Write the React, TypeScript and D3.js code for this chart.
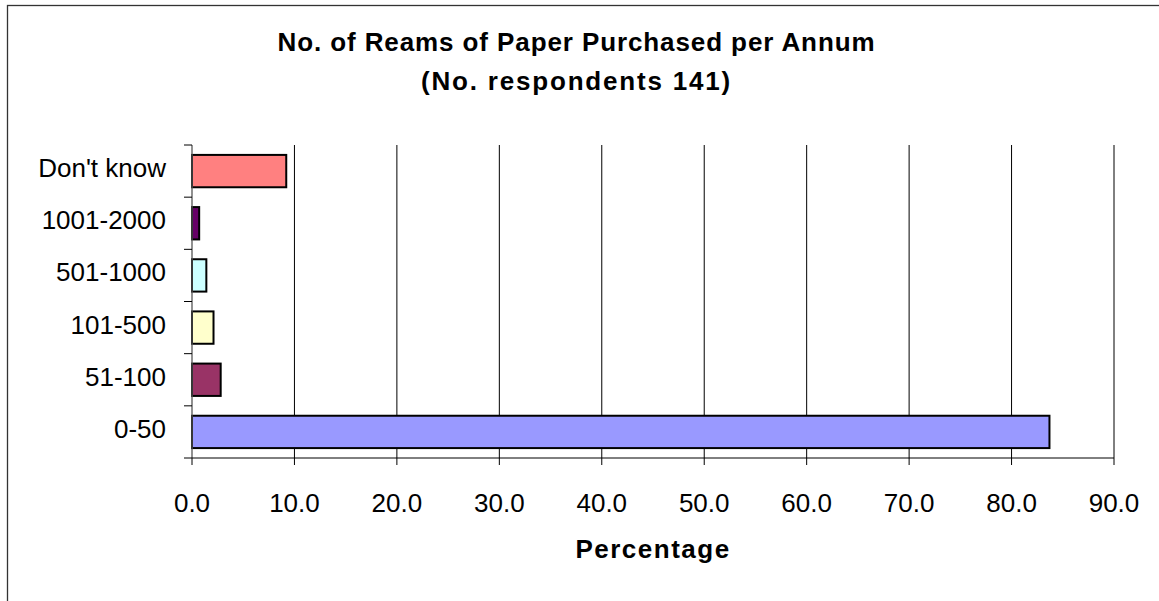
import React from "react";
import * as d3 from "d3";

const categories = ["Don't know", "1001-2000", "501-1000", "101-500", "51-100", "0-50"];
const values = [9.2, 0.7, 1.4, 2.1, 2.8, 83.7];
const colors = ["#FF8080", "#660066", "#CCFFFF", "#FFFFCC", "#993366", "#9999FF"];
const xTicks = [0, 10, 20, 30, 40, 50, 60, 70, 80, 90];
const titleLines = ["No. of Reams of Paper Purchased per Annum", "(No. respondents 141)"];
const titleSpacing = [0.9, 1.8];
const xAxisTitle = "Percentage";

const W = 1159;
const H = 601;
const plot = { left: 192, right: 1114, top: 145, bottom: 458 };
const FONT = "'Liberation Sans', Arial, Helvetica, sans-serif";

export default function App() {
  const x = d3.scaleLinear().domain([0, 90]).range([plot.left, plot.right]);
  const y = d3
    .scaleBand<string>()
    .domain(categories)
    .range([plot.top, plot.bottom])
    .paddingInner(0.38)
    .paddingOuter(0.19);
  const step = (plot.bottom - plot.top) / categories.length;

  return (
    <svg
      width={W}
      height={H}
      style={{ position: "absolute", left: 0, top: 0, background: "#fff" }}
      fontFamily={FONT}
    >
      <rect x={0} y={0} width={W} height={H} fill="#fff" />
      <rect x={7.5} y={5.5} width={W + 20} height={H + 20} fill="none" stroke="#333" strokeWidth={1.3} />

      {titleLines.map((t, i) => (
        <text
          key={t}
          x={576.5}
          y={51 + i * 39}
          textAnchor="middle"
          fontSize={26}
          fontWeight="bold"
          letterSpacing={titleSpacing[i]}
          fill="#000"
        >
          {t}
        </text>
      ))}

      {/* gridlines */}
      {xTicks.slice(1).map((t) => (
        <line key={"g" + t} x1={x(t)} x2={x(t)} y1={plot.top} y2={plot.bottom} stroke="#000" strokeWidth={1} />
      ))}

      {/* bars */}
      {categories.map((c, i) => (
        <rect
          key={c}
          x={x(0)}
          y={y(c)!}
          width={x(values[i]) - x(0)}
          height={y.bandwidth()}
          fill={colors[i]}
          stroke="#000"
          strokeWidth={2}
        />
      ))}

      {/* y axis */}
      <line x1={plot.left} x2={plot.left} y1={plot.top} y2={plot.bottom} stroke="#555" strokeWidth={1.3} />
      {d3.range(categories.length + 1).map((i) => (
        <line
          key={"yt" + i}
          x1={plot.left - 8}
          x2={plot.left}
          y1={plot.top + i * step}
          y2={plot.top + i * step}
          stroke="#000"
          strokeWidth={1}
        />
      ))}
      {categories.map((c) => (
        <text key={"yl" + c} x={166} y={y(c)! + y.bandwidth() / 2 + 6} textAnchor="end" fontSize={26} fill="#000">
          {c}
        </text>
      ))}

      {/* x axis */}
      <line x1={plot.left} x2={plot.right} y1={plot.bottom} y2={plot.bottom} stroke="#000" strokeWidth={1} />
      {xTicks.map((t) => (
        <g key={"xt" + t}>
          <line x1={x(t)} x2={x(t)} y1={plot.bottom} y2={plot.bottom + 7} stroke="#000" strokeWidth={1} />
          <text x={x(t)} y={512} textAnchor="middle" fontSize={26} fill="#000">
            {t.toFixed(1)}
          </text>
        </g>
      ))}
      <text x={(plot.left + plot.right) / 2} y={558} textAnchor="middle" fontSize={26} fontWeight="bold" letterSpacing={1.5} fill="#000">
        {xAxisTitle}
      </text>
    </svg>
  );
}
